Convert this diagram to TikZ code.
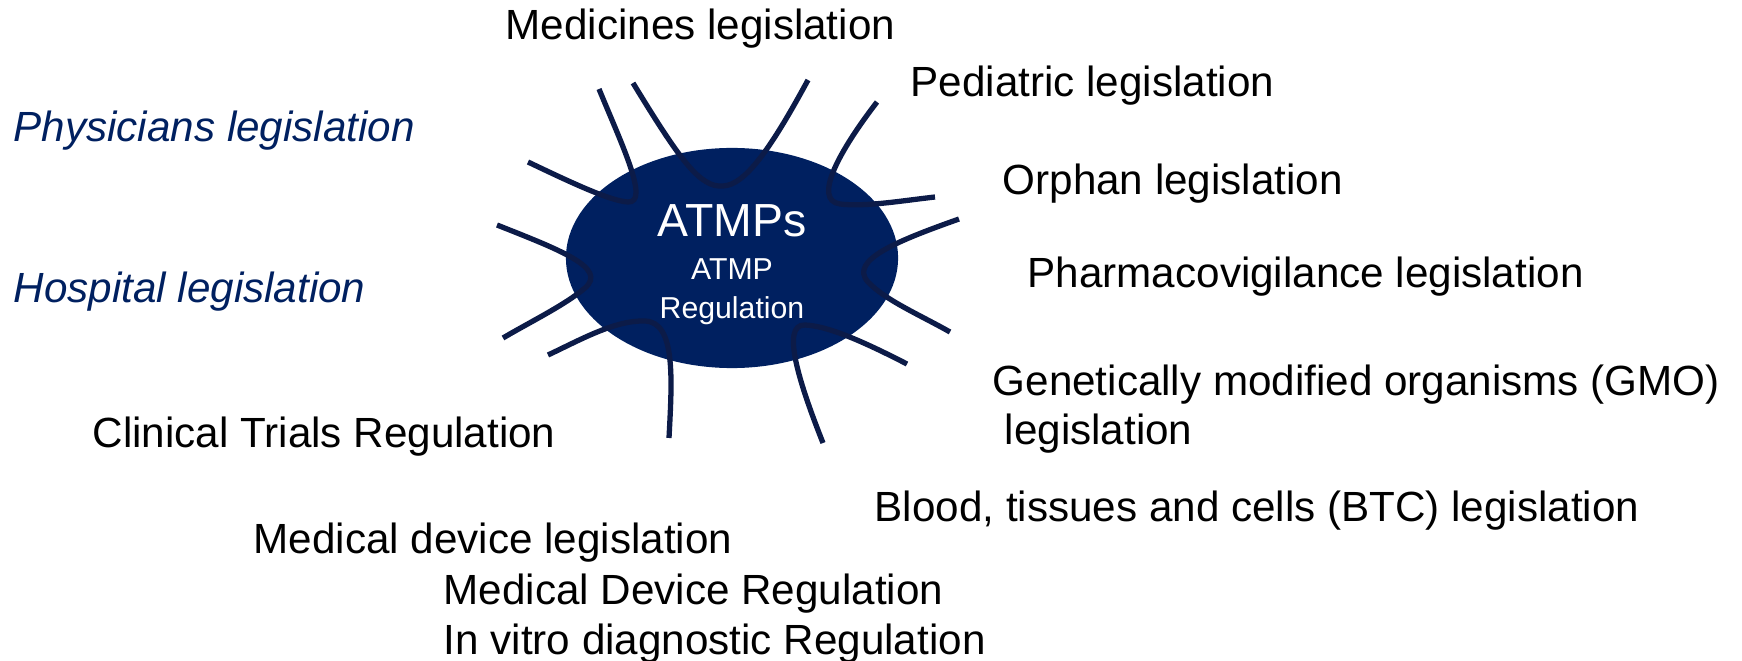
\documentclass[tikz,border=0pt]{standalone}
\usepackage{fontspec}
\setmainfont{Liberation Sans}
\usetikzlibrary{shapes.geometric}
\definecolor{atmpfill}{RGB}{0,32,96}
\definecolor{tendril}{RGB}{12,27,72}
\definecolor{navytext}{RGB}{0,32,96}
\begin{document}
\begin{tikzpicture}[x=0.01cm,y=-0.01cm,
  label/.style={anchor=base west,inner sep=0pt,font=\fontsize{12pt}{14pt}\selectfont,text=black},
  sidelabel/.style={label,font=\fontsize{12pt}{14pt}\selectfont\itshape,text=navytext},
  corebox/.style={ellipse,fill=atmpfill,draw=none,minimum width=3.32cm,minimum height=2.2cm,inner sep=0pt},
  coretext/.style={anchor=base,inner sep=0pt,text=white},
  tendrilline/.style={draw=tendril,line width=1.5pt,line cap=butt}]
\useasboundingbox (0,0) rectangle (1742,661);

% central ellipse and its text
\node[corebox] (core) at (732,258) {};
\node[coretext,font=\fontsize{13.2pt}{15pt}\selectfont] (coretitle) at (732,237) {ATMPs};
\node[coretext,font=\fontsize{8.6pt}{10pt}\selectfont] (coresub) at (732,280) {ATMP};
\node[coretext,font=\fontsize{8.6pt}{10pt}\selectfont] (corereg) at (732,319) {Regulation};

% tendrils around the ellipse
\draw[tendrilline] (599,89) .. controls (622,145) and (650,203) .. (628,202)
  .. controls (610,201) and (570,182) .. (528,162);
\draw[tendrilline] (633,83) .. controls (680,160) and (700,188) .. (723,186)
  .. controls (745,185) and (770,150) .. (808,80);
\draw[tendrilline] (877,102) .. controls (840,150) and (812,200) .. (840,204)
  .. controls (865,207) and (900,201) .. (935,197);
\draw[tendrilline] (959,219) .. controls (900,240) and (848,260) .. (868,282)
  .. controls (885,300) and (920,315) .. (950,332);
\draw[tendrilline] (823,443) .. controls (800,385) and (780,324) .. (805,325)
  .. controls (830,326) and (870,345) .. (907,364);
\draw[tendrilline] (669,438) .. controls (672,380) and (676,322) .. (645,321)
  .. controls (615,320) and (580,340) .. (548,355);
\draw[tendrilline] (497,225) .. controls (560,250) and (608,268) .. (585,288)
  .. controls (565,305) and (530,322) .. (503,338);

% surrounding legislation labels
\node[label] (medicines) at (505,40) {Medicines legislation};
\node[label] (pediatric) at (910,97) {Pediatric legislation};
\node[label] (orphan) at (1002,195) {Orphan legislation};
\node[label] (pharmaco) at (1027,288) {Pharmacovigilance legislation};
\node[label] (gmo) at (992,396) {Genetically modified organisms (GMO)};
\node[label] (gmo2) at (1004,445) {legislation};
\node[label] (btc) at (874,522) {Blood, tissues and cells (BTC) legislation};
\node[label] (mdleg) at (253,554) {Medical device legislation};
\node[label] (mdr) at (443,604) {Medical Device Regulation};
\node[label] (ivdr) at (443,654) {In vitro diagnostic Regulation};
\node[label] (ctr) at (92,448) {Clinical Trials Regulation};
\node[sidelabel] (physicians) at (13,142) {Physicians legislation};
\node[sidelabel] (hospital) at (13,303) {Hospital legislation};
\end{tikzpicture}
\end{document}
